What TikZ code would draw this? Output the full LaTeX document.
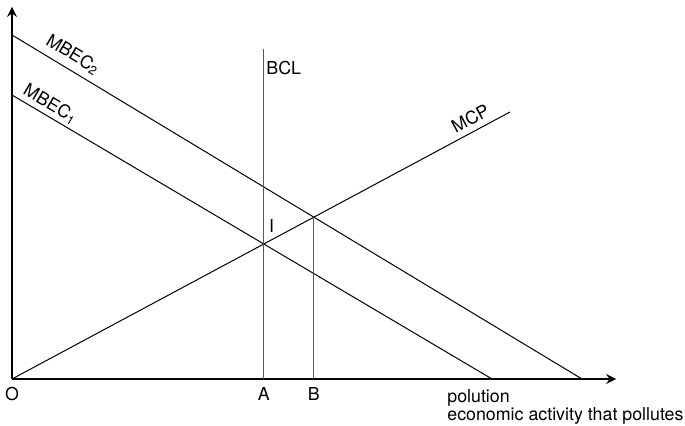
\documentclass[tikz,border=0pt]{standalone}
\usepackage{fontspec}
\setmainfont{TeX Gyre Heros}
\usetikzlibrary{arrows.meta,intersections}

\begin{document}
\begin{tikzpicture}[
  x=0.5pt, y=-0.5pt,
  >={Stealth[length=5pt, width=5pt, inset=1.8pt]},
  axis/.style={line width=0.6pt, ->},
  curve/.style={line width=0.5pt},
  level/.style={line width=0.6pt, black!65},
  lab/.style={font=\fontsize{8.9}{9}\selectfont, inner sep=1pt, text=black}
]
\useasboundingbox (0,0) rectangle (685,426);

% Axes
\coordinate (O) at (12,379);
\coordinate (xend) at (616,379);
\coordinate (yend) at (12,7);
\draw[axis] (O) -- (xend);
\draw[axis] (O) -- (yend);

% Benefit and cost lines
\draw[curve, name path=mbec2] (12,35) -- (582,379) node[lab, pos=0.094, sloped, above=2pt] (lMBEC2) {MBEC\textsubscript{2}};
\draw[curve, name path=mbec1] (12,95) -- (492,379) node[lab, pos=0.068, sloped, above=0.5pt] (lMBEC1) {MBEC\textsubscript{1}};
\draw[curve, name path=mcp] (O) -- (510,112) node[lab, pos=0.933, sloped, above=2pt] (lMCP) {MCP};

% Intersections
\path[name intersections={of=mcp and mbec1, by=I}];
\path[name intersections={of=mcp and mbec2, by=E}];
\coordinate (A) at (I |- O);
\coordinate (B) at (E |- O);
\coordinate (bcltop) at (I |- 0,49);

% Vertical levels
\draw[level] (A) -- (bcltop) node[lab, pos=0.942, right] (lBCL) {BCL};
\draw[level] (B) -- (E);
\node[lab, anchor=south west, xshift=1.5pt, yshift=4.5pt] (lI) at (I) {I};

% Axis labels
\node[lab, below=3pt] (lO) at (O) {O};
\node[lab, below=3pt] (lA) at (A) {A};
\node[lab, below=3pt] (lB) at (B) {B};
\node[lab, anchor=north west, align=left] (lx) at (445,387) {polution\\economic activity that pollutes};
\end{tikzpicture}
\end{document}
